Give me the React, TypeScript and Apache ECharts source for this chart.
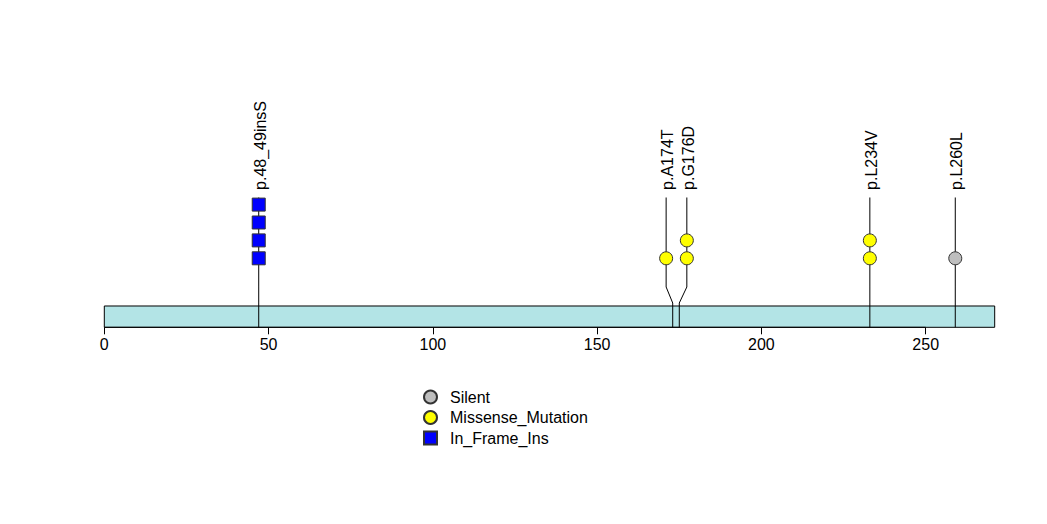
import React, { useEffect, useRef } from "react";
import * as echarts from "echarts";

// ---- data ----
const proteinLength = 271;
const mutationLabels = ["p.48_49insS", "p.A174T", "p.G176D", "p.L234V", "p.L260L"];
const mutationPositions = [47, 173, 175, 233, 259];
const mutationDisplayPositions = [47, 171, 177.3, 233, 259];
const mutationCounts = [4, 1, 2, 2, 1];
const mutationTypes = ["In_Frame_Ins", "Missense_Mutation", "Missense_Mutation", "Missense_Mutation", "Silent"];
const legendTypes = ["Silent", "Missense_Mutation", "In_Frame_Ins"];
const tickValues = [0, 50, 100, 150, 200, 250];
const axisLineEnd = 250;

// ---- styles / layout ----
const typeColors: Record<string, string> = {
  Silent: "#bebebe",
  Missense_Mutation: "#ffff00",
  In_Frame_Ins: "#0000ff",
};
const typeSymbols: Record<string, string> = {
  Silent: "circle",
  Missense_Mutation: "circle",
  In_Frame_Ins: "rect",
};
const FONT = '"Liberation Sans", Arial, Helvetica, sans-serif';
const Y_MIN = -2.855;
const Y_MAX = 5;
const BAR_TOP = -1.665;
const BAR_BOTTOM = -2.855;
const STEM_TOP = 4.397;
const BEND_START = -0.603;
const BEND_END = -1.497;
const LABEL_BASE = 4.82;

export default function App() {
  const ref = useRef<HTMLDivElement>(null);

  useEffect(() => {
    if (!ref.current) return;
    const chart = echarts.init(ref.current, undefined, { renderer: "svg" });

    const stemData = mutationPositions.map((p, i) => [p, mutationDisplayPositions[i], i]);

    const headSeries = legendTypes.map((t) => {
      const pts: number[][] = [];
      mutationTypes.forEach((mt, i) => {
        if (mt !== t) return;
        for (let k = 1; k <= mutationCounts[i]; k++) pts.push([mutationDisplayPositions[i], k]);
      });
      return {
        name: t,
        type: "scatter",
        symbol: typeSymbols[t],
        symbolSize: 13,
        z: 4,
        itemStyle: { color: typeColors[t], borderColor: "#333", borderWidth: 1, opacity: 1 },
        emphasis: { disabled: true },
        data: pts,
      };
    });

    const option: any = {
      animation: false,
      backgroundColor: "#ffffff",
      grid: {
        left: 104.3,
        right: 52.3,
        top: 186.7,
        bottom: 196.7,
        containLabel: false,
        outerBoundsMode: "none",
      },
      xAxis: {
        type: "value",
        min: 0,
        max: proteinLength,
        position: "bottom",
        splitLine: { show: false },
        axisLine: { show: false, onZero: false },
        axisTick: {
          show: true,
          length: 7,
          lineStyle: { color: "#000", width: 1 },
          customValues: tickValues,
        },
        axisLabel: {
          customValues: tickValues,
          fontSize: 16,
          fontFamily: FONT,
          color: "#000",
          margin: 9,
        },
      },
      yAxis: { type: "value", min: Y_MIN, max: Y_MAX, show: false },
      legend: {
        data: legendTypes.map((t) => ({ name: t, icon: typeSymbols[t] })),
        orient: "vertical",
        left: 418,
        top: 384,
        itemWidth: 13,
        itemHeight: 13,
        itemGap: 4.5,
        selectedMode: false,
        textStyle: {
          fontSize: 16,
          fontFamily: FONT,
          color: "#000",
          lineHeight: 16,
          padding: [0, 0, 0, 8],
        },
      },
      series: [
        {
          name: "domain",
          type: "custom",
          z: 1,
          silent: true,
          data: [[0, proteinLength]],
          renderItem: (_params: any, api: any) => {
            const p0 = api.coord([api.value(0), BAR_TOP]);
            const p1 = api.coord([api.value(1), BAR_BOTTOM]);
            const a1 = api.coord([axisLineEnd, BAR_BOTTOM]);
            return {
              type: "group",
              children: [
                {
                  type: "rect",
                  shape: { x: p0[0], y: p0[1], width: p1[0] - p0[0], height: p1[1] - p0[1] },
                  style: { fill: "#b3e4e6", stroke: "#000", lineWidth: 1 },
                },
                {
                  type: "line",
                  shape: { x1: p0[0], y1: p1[1], x2: a1[0], y2: a1[1] },
                  style: { stroke: "#000", lineWidth: 1 },
                },
              ],
            };
          },
        },
        {
          name: "stems",
          type: "custom",
          z: 2,
          silent: true,
          data: stemData,
          renderItem: (_params: any, api: any) => {
            const pos = api.value(0) as number;
            const disp = api.value(1) as number;
            const idx = api.value(2) as number;
            const top = api.coord([disp, STEM_TOP]);
            const b1 = api.coord([disp, BEND_START]);
            const b2 = api.coord([pos, BEND_END]);
            const bottom = api.coord([pos, BAR_BOTTOM]);
            const lab = api.coord([disp, LABEL_BASE]);
            return {
              type: "group",
              children: [
                {
                  type: "polyline",
                  shape: { points: [top, b1, b2, bottom] },
                  style: { stroke: "#000", lineWidth: 1, fill: null },
                },
                {
                  type: "text",
                  x: lab[0] + 1.5,
                  y: lab[1],
                  rotation: Math.PI / 2,
                  style: {
                    text: mutationLabels[idx],
                    fill: "#000",
                    fontSize: 16,
                    fontFamily: FONT,
                    align: "left",
                    verticalAlign: "middle",
                  },
                },
              ],
            };
          },
        },
        ...headSeries,
      ],
    };

    chart.setOption(option);
    return () => chart.dispose();
  }, []);

  return (
    <div
      ref={ref}
      style={{ position: "fixed", left: 0, top: 0, width: 1047, height: 524, background: "#fff" }}
    />
  );
}
